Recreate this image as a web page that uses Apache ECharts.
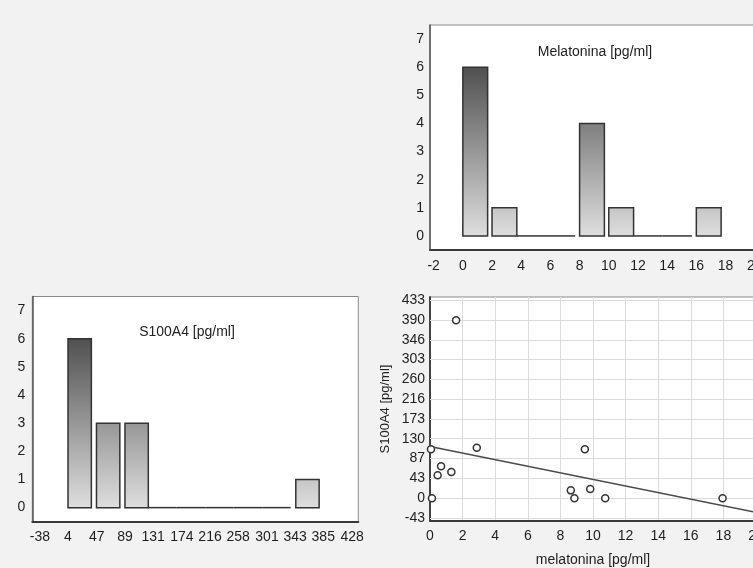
<!DOCTYPE html>
<html><head><meta charset="utf-8">
<script src="https://cdn.jsdelivr.net/npm/echarts@6/dist/echarts.min.js"></script>
<style>html,body{margin:0;padding:0;background:#f2f2f2}#c{width:753px;height:568px}</style>
</head><body><div id="c"></div>
<script>
// ---- data ----
const melBinStarts = [0, 2, 4, 6, 8, 10, 12, 14, 16];
const melCounts    = [6, 1, 0, 0, 4, 1, 0, 0, 1];
const melBinWidth  = 2;
const melTicks     = [-2, 0, 2, 4, 6, 8, 10, 12, 14, 16, 18, 20];

const s100BinStarts = [4, 46.5, 89, 131.5, 174, 216.5, 259, 301.5, 344];
const s100Counts    = [6, 3, 3, 0, 0, 0, 0, 0, 1];
const s100BinWidth  = 42.5;
const s100Ticks     = [-38, 4, 47, 89, 131, 174, 216, 258, 301, 343, 385, 428];

const countTicks = [0, 1, 2, 3, 4, 5, 6, 7];

const scatterMel  = [0.06, 0.12, 0.47, 0.68, 1.31, 1.6, 2.87, 8.64, 8.86, 9.5, 9.83, 10.75, 17.95];
const scatterS100 = [107, 0, 50, 70, 57, 389, 110, 17, 0, 107, 20, 0, 0];
const scatterXTicks = [0, 2, 4, 6, 8, 10, 12, 14, 16, 18, 20];
const scatterYTicks = [-43, 0, 43, 87, 130, 173, 216, 260, 303, 346, 390, 433];
const regLine = [[0, 113], [20, -31]];

const melTitle = 'Melatonina [pg/ml]';
const s100Title = 'S100A4 [pg/ml]';
const xName = 'melatonina [pg/ml]';
const yName = 'S100A4 [pg/ml]';

// ---- chart ----
const FONT = '"Liberation Sans", Arial, sans-serif';
const chart = echarts.init(document.getElementById('c'));

function histItem(binWidth, maxCount, frac) {
  return function (params, api) {
    const b = api.value(0), c = api.value(1);
    const p0 = api.coord([b, 0]);
    const pEnd = api.coord([b + binWidth * frac, c]);
    if (c === 0) {
      const pStart = api.coord([b - binWidth * (1 - frac), 0]);
      return { type: 'line', shape: { x1: pStart[0], y1: p0[1], x2: pEnd[0], y2: p0[1] },
        style: { stroke: '#333', lineWidth: 1.5 } };
    }
    const yTop = api.coord([b, maxCount])[1];
    return {
      type: 'rect',
      shape: { x: p0[0], y: pEnd[1], width: pEnd[0] - p0[0], height: p0[1] - pEnd[1] },
      style: {
        fill: { type: 'linear', x: 0, y: yTop, x2: 0, y2: p0[1], global: true,
          colorStops: [{ offset: 0, color: '#505050' }, { offset: 1, color: '#dedede' }] },
        stroke: '#333', lineWidth: 1.5
      }
    };
  };
}

const lbl = (vals, margin) => ({ customValues: vals, margin: margin, fontSize: 14, color: '#1e1e1e', fontFamily: FONT });
const gridBase = { show: true, backgroundColor: '#fff', borderColor: '#8a8a8a', borderWidth: 1, containLabel: false, outerBoundsMode: 'none' };

const option = {
  backgroundColor: '#f2f2f2',
  animation: false,
  textStyle: { fontFamily: FONT },
  grid: [
    Object.assign({ left: 430, top: 25, width: 332, height: 225 }, gridBase),
    Object.assign({ left: 32.3, top: 296.5, width: 326, height: 225.2 }, gridBase),
    Object.assign({ left: 430, top: 297, width: 326, height: 224 }, gridBase)
  ],
  xAxis: [
    { gridIndex: 0, type: 'value', min: -2.25, max: 20.5,
      axisLine: { show: true, onZero: false, lineStyle: { color: '#3a3a3a', width: 2 } },
      axisTick: { show: false }, splitLine: { show: false }, axisLabel: lbl(melTicks, 9) },
    { gridIndex: 1, type: 'value', min: -49.3, max: 437.3,
      axisLine: { show: true, onZero: false, lineStyle: { color: '#3a3a3a', width: 2 } },
      axisTick: { show: false }, splitLine: { show: false }, axisLabel: lbl(s100Ticks, 8) },
    { gridIndex: 2, type: 'value', min: 0, max: 20, interval: 2,
      axisLine: { show: true, onZero: false, lineStyle: { color: '#3a3a3a', width: 2 } },
      axisTick: { show: false },
      splitLine: { show: true, lineStyle: { color: '#dcdcdc', width: 1 } },
      axisLabel: lbl(scatterXTicks, 8),
      name: xName, nameLocation: 'middle', nameGap: 32,
      nameTextStyle: { fontSize: 14, color: '#222', fontFamily: FONT } }
  ],
  yAxis: [
    { gridIndex: 0, type: 'value', min: -0.5, max: 7.5,
      axisLine: { show: true, onZero: false, lineStyle: { color: '#555', width: 1.5 } },
      axisTick: { show: false }, splitLine: { show: false }, axisLabel: lbl(countTicks, 6) },
    { gridIndex: 1, type: 'value', min: -0.5, max: 7.5,
      axisLine: { show: true, onZero: false, lineStyle: { color: '#555', width: 1.5 } },
      axisTick: { show: false }, splitLine: { show: false }, axisLabel: lbl(countTicks, 7) },
    { gridIndex: 2, type: 'value', min: -50, max: 440,
      axisLine: { show: true, onZero: false, lineStyle: { color: '#444', width: 2 } },
      axisTick: { show: false },
      splitLine: { show: false },
      axisLabel: lbl(scatterYTicks, 5),
      name: yName, nameLocation: 'middle', nameGap: 38, nameRotate: 90,
      nameTextStyle: { fontSize: 13, color: '#222', fontFamily: FONT } }
  ],
  series: [
    { type: 'custom', xAxisIndex: 0, yAxisIndex: 0,
      renderItem: histItem(melBinWidth, Math.max(...melCounts), 0.85),
      data: melBinStarts.map((b, i) => [b, melCounts[i]]) },
    { type: 'custom', xAxisIndex: 1, yAxisIndex: 1,
      renderItem: histItem(s100BinWidth, Math.max(...s100Counts), 0.82),
      data: s100BinStarts.map((b, i) => [b, s100Counts[i]]) },
    { type: 'line', xAxisIndex: 2, yAxisIndex: 2, data: regLine, symbol: 'none', z: 2,
      lineStyle: { color: '#4a4a4a', width: 1.4 }, clip: true,
      markLine: { silent: true, symbol: 'none', label: { show: false }, z: 1,
        lineStyle: { color: '#dcdcdc', width: 1, type: 'solid' },
        data: scatterYTicks.map(v => ({ yAxis: v })) } },
    { type: 'scatter', xAxisIndex: 2, yAxisIndex: 2, symbol: 'circle', symbolSize: 7, z: 3,
      itemStyle: { color: '#fff', borderColor: '#333', borderWidth: 1.5, opacity: 1 },
      data: scatterMel.map((x, i) => [x, scatterS100[i]]) }
  ],
  graphic: [
    { type: 'text', x: 595, y: 52, style: { text: melTitle, align: 'center', verticalAlign: 'middle', font: '14px ' + FONT, fill: '#222' } },
    { type: 'text', x: 187, y: 332, style: { text: s100Title, align: 'center', verticalAlign: 'middle', font: '14px ' + FONT, fill: '#222' } }
  ]
};
chart.setOption(option);
</script>
</body></html>
